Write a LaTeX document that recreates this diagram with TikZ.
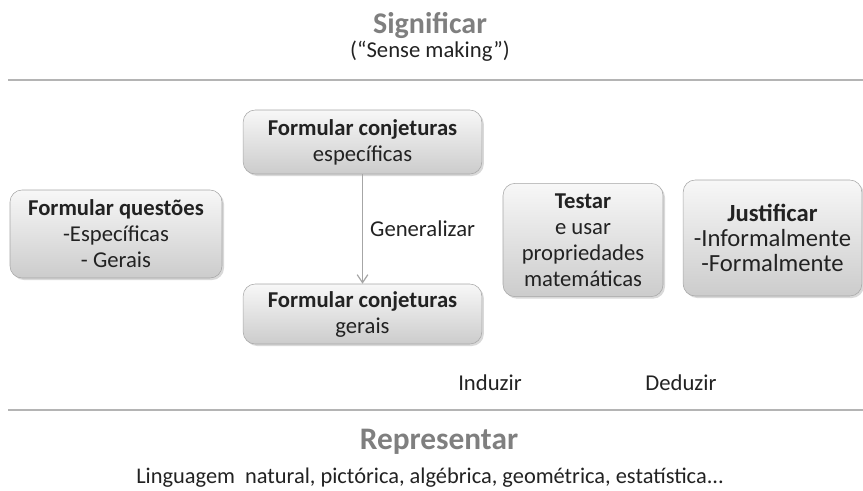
\documentclass[tikz,border=0pt]{standalone}
\usepackage{fontspec}
\setmainfont{Carlito}
\usetikzlibrary{arrows.meta,shadows}
\definecolor{titlegray}{HTML}{7F7F7F}
\definecolor{textdark}{HTML}{222222}
\definecolor{rulegray}{HTML}{B4B4B4}

\begin{document}
\begin{tikzpicture}[x=0.75pt,y=-0.75pt,>={Straight Barb[length=6pt,width=8pt]},
 box/.style={draw=gray!70,rounded corners=9pt,top color=gray!6,bottom color=gray!40,
  drop shadow={opacity=0.3,shadow xshift=1.5pt,shadow yshift=-1.5pt},
  align=center,inner sep=2pt,text=textdark,font=\fontsize{17}{19.5}\selectfont},
 title/.style={font=\fontsize{22.5}{26}\selectfont\bfseries,text=titlegray},
 plain/.style={font=\fontsize{17}{20}\selectfont,text=textdark},
 rule/.style={draw=rulegray,line width=1.5pt}]
 \useasboundingbox (0,0) rectangle (863,490);
 % Significar
 \node[title] (signif) at (430,25) {Significar};
 \node[plain] (sense) at (430,51) {(“Sense making”)};
 \draw[rule] (8,80) -- (863,80);
 % boxes
 \node[box,minimum width=159pt,minimum height=66pt] (quest) at (116,234)
  {\textbf{Formular questões}\\-Específicas\\- Gerais};
 \node[box,minimum width=179pt,minimum height=48pt] (espec) at (362.5,142)
  {\textbf{Formular conjeturas}\\específicas};
 \node[box,minimum width=179pt,minimum height=45pt] (gerais) at (362.5,314)
  {\textbf{Formular conjeturas}\\gerais};
 \node[box,minimum width=120pt,minimum height=85pt] (testar) at (583,240)
  {\textbf{Testar}\\e usar\\propriedades\\matemáticas};
 \node[box,minimum width=134pt,minimum height=87pt,font=\fontsize{18.5}{18.5}\selectfont] (justif) at (772.5,238)
  {\textbf{Justificar}\\-Informalmente\\-Formalmente};
 \draw[->,draw=gray!70,line width=0.9pt] (espec) -- node[plain,right=2pt] (general) {Generalizar} (gerais);
 % Representar
 \node[plain] (induz) at (490,383) {Induzir};
 \node[plain] (deduz) at (681,383) {Deduzir};
 \draw[rule] (8,410) -- (863,410);
 \node[title,font=\fontsize{23.5}{27}\selectfont\bfseries] (repres) at (439,442) {Representar};
 \node[plain,font=\fontsize{16.8}{20}\selectfont] (lingua) at (430,478) {Linguagem\ \ natural, pictórica, algébrica, geométrica, estatística...};
\end{tikzpicture}
\end{document}
